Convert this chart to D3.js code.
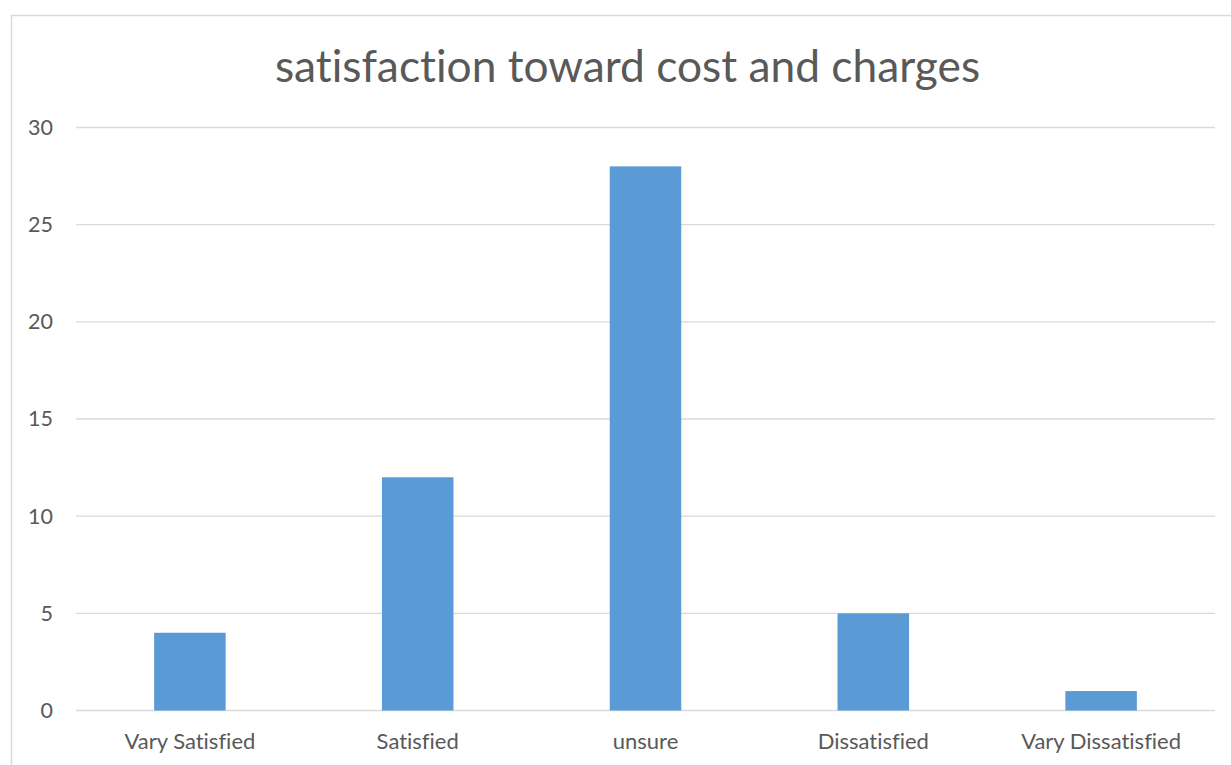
<!DOCTYPE html>
<html>
<head>
<meta charset="utf-8">
<script src="https://cdn.jsdelivr.net/npm/d3@7"></script>
<style>
  html, body { margin: 0; padding: 0; background: #fff; }
  svg { display: block; }
  text { font-family: Lato, "Open Sans", sans-serif; fill: #595959; font-variant-ligatures: none; font-feature-settings: "liga" 0; }
</style>
</head>
<body>
<svg id="chart" width="1231" height="765"></svg>
<script>
const title = "satisfaction toward cost and charges";
const categories = ["Vary Satisfied", "Satisfied", "unsure", "Dissatisfied", "Vary Dissatisfied"];
const values = [4, 12, 28, 5, 1];
const yTicks = [0, 5, 10, 15, 20, 25, 30];

const W = 1231, H = 765;
const margin = { left: 76, right: 16, top: 127.5, bottom: 54.5 };
const svg = d3.select("#chart");

// chart frame
svg.append("rect")
  .attr("x", 11.5).attr("y", 15.5)
  .attr("width", W + 20).attr("height", H + 20)
  .attr("fill", "none").attr("stroke", "#d9d9d9").attr("stroke-width", 1.5);

const x = d3.scaleBand().domain(categories)
  .range([margin.left, W - margin.right])
  .paddingInner(0.686).paddingOuter(0.343);
const y = d3.scaleLinear().domain([0, 30]).range([H - margin.bottom, margin.top]);

// gridlines
const grid = svg.append("g").attr("class", "grid");
grid.selectAll("line").data(yTicks).enter().append("line")
  .attr("x1", margin.left).attr("x2", W - margin.right)
  .attr("y1", d => y(d)).attr("y2", d => y(d))
  .attr("stroke", "#d9d9d9").attr("stroke-width", 1.3);

// y axis labels
const yAxis = d3.axisLeft(y).tickValues(yTicks).tickSize(0).tickPadding(23);
const gy = svg.append("g").attr("transform", `translate(${margin.left},0)`).call(yAxis);
gy.select(".domain").remove();
gy.selectAll("text").attr("font-size", 21.5).style("font-family", "Lato, sans-serif").attr("fill", "#595959");

// bars
svg.append("g").selectAll("rect").data(values).enter().append("rect")
  .attr("x", (d, i) => x(categories[i]))
  .attr("width", x.bandwidth())
  .attr("y", d => y(d))
  .attr("height", d => y(0) - y(d))
  .attr("fill", "#5b9bd5");

// x axis
const xAxis = d3.axisBottom(x).tickSize(0).tickPadding(23);
const gx = svg.append("g").attr("transform", `translate(0,${y(0)})`).call(xAxis);
gx.select(".domain").remove();
gx.selectAll("text").attr("font-size", 22).style("font-family", "Lato, sans-serif").attr("fill", "#595959");

// title
svg.append("text")
  .attr("x", 627.5)
  .attr("y", 82)
  .attr("text-anchor", "middle")
  .attr("font-size", 44.3)
  .text(title);
</script>
</body>
</html>
